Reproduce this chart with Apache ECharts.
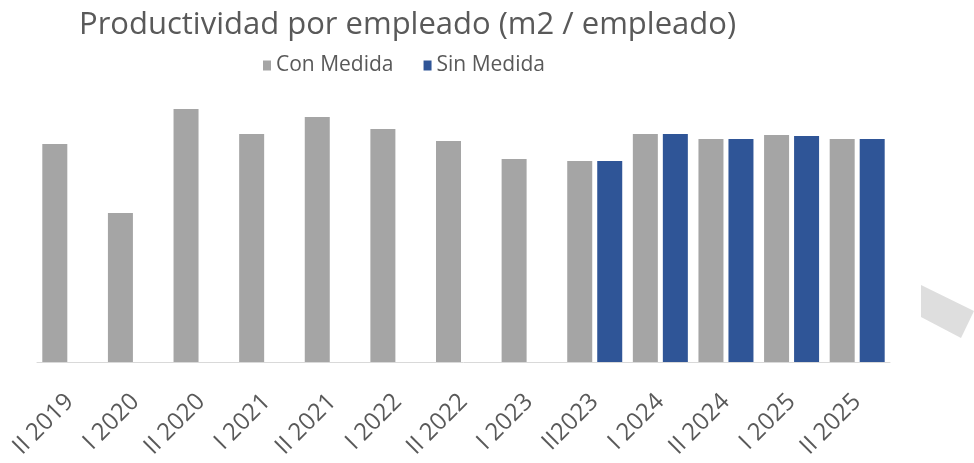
<!DOCTYPE html>
<html>
<head>
<meta charset="utf-8">
<script src="https://cdn.jsdelivr.net/npm/echarts@6/dist/echarts.min.js"></script>
<style>html,body{margin:0;padding:0;background:#fff}#c{width:974px;height:463px}</style>
</head>
<body>
<div id="c"></div>
<script>
const categories = ["II 2019","I 2020","II 2020","I 2021","II 2021","I 2022","II 2022","I 2023","II2023","I 2024","II 2024","I 2025","II 2025"];
const conMedida = [218, 149, 253, 228, 245, 233, 221, 203, 201, 228, 223, 227, 223];
const sinMedida = [null, null, null, null, null, null, null, null, 201, 228, 223, 226, 223];
const seriesNames = ["Con Medida", "Sin Medida"];
const titleText = "Productividad por empleado (m2 / empleado)";

const FONT = "'Open Sans', sans-serif";
const chart = echarts.init(document.getElementById('c'));
chart.setOption({
  animation: false,
  backgroundColor: '#ffffff',
  title: {
    text: titleText,
    left: 74, top: 5,
    textStyle: { fontFamily: FONT, fontSize: 31, fontWeight: 'normal', color: '#595959' }
  },
  legend: {
    data: seriesNames,
    left: 258, top: 50,
    icon: 'rect', itemWidth: 8, itemHeight: 10, itemGap: 30,
    textStyle: { fontFamily: FONT, fontSize: 21, color: '#595959', padding: [0,0,0,0] }
  },
  grid: { left: 37, right: 84, top: 102, bottom: 101, containLabel: false },
  xAxis: {
    type: 'category', data: categories,
    axisLine: { lineStyle: { color: '#d9d9d9', width: 1 } },
    axisTick: { show: false },
    axisLabel: { interval: 0, rotate: 45, margin: 36, fontFamily: FONT, fontSize: 24, color: '#595959' }
  },
  yAxis: {
    type: 'value', min: 0, max: 260,
    show: false, splitLine: { show: false }
  },
  series: [
    { name: seriesNames[0], type: 'bar', data: conMedida, barWidth: 25, barGap: '20%', itemStyle: { color: '#a5a5a5' } },
    { name: seriesNames[1], type: 'bar', data: sinMedida, barWidth: 25, itemStyle: { color: '#2f5597' } }
  ],
  graphic: [{
    type: 'polygon',
    shape: { points: [[921,285],[974,311],[961,338],[921,317]] },
    style: { fill: '#dedede' },
    silent: true
  }]
});
</script>
</body>
</html>
